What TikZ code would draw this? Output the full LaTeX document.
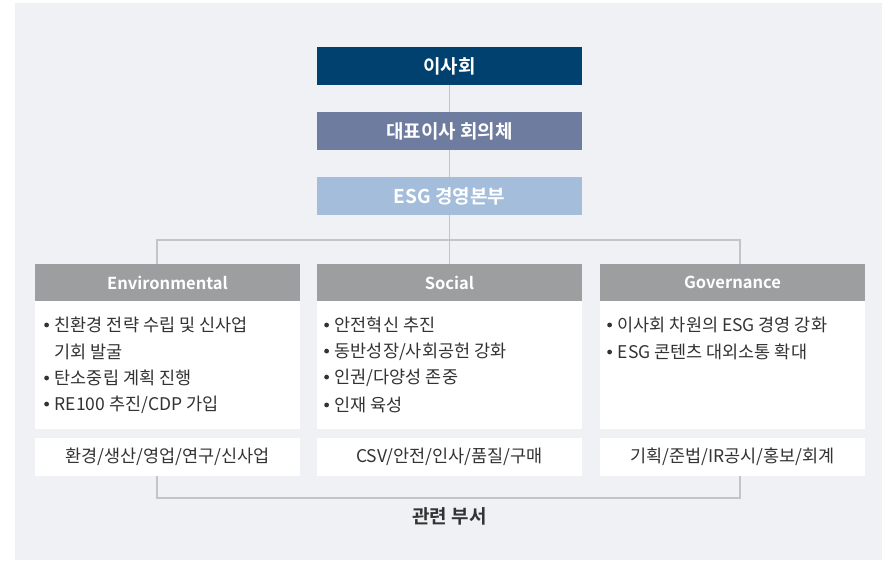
\documentclass[tikz,border=0pt]{standalone}
\usepackage{fontspec}
\setmainfont{Noto Sans CJK KR}
\newfontfamily\krb{Noto Sans CJK KR Bold}
\definecolor{bgc}{HTML}{F0F1F4}
\definecolor{navy}{HTML}{00416F}
\definecolor{slate}{HTML}{6E7C9F}
\definecolor{lblue}{HTML}{A4BDDB}
\definecolor{hdr}{HTML}{9D9E9F}
\definecolor{linec}{HTML}{C3C4C6}
\definecolor{txt}{HTML}{333333}
\newcommand{\bt}{\makebox[10.5pt][l]{\raisebox{4.2pt}{\tikz\fill[txt] (0,0) circle (2.4pt);}}}
\begin{document}
\begin{tikzpicture}[x=1pt,y=-1pt,
  topbox/.style={minimum width=265pt,minimum height=38pt,inner sep=0pt,text=white,font=\krb\fontsize{19}{21}\selectfont},
  hdrbox/.style={fill=hdr,minimum width=265pt,minimum height=37pt,inner sep=0pt,text=white,font=\krb\fontsize{16.5}{19}\selectfont},
  bodybox/.style={fill=white,minimum width=265pt,minimum height=128pt,inner sep=0pt},
  deptbox/.style={fill=white,minimum width=265pt,minimum height=38pt,inner sep=0pt,text=txt,font=\fontsize{17.5}{20}\selectfont},
  bul/.style={anchor=west,text=txt,font=\fontsize{17.5}{20}\selectfont,inner sep=0pt},
  conn/.style={draw=linec,line width=1.5pt}]
\useasboundingbox (0,0) rectangle (882,562);
\fill[bgc] (15,3) rectangle (882,560);
% connectors
\coordinate (hl) at (157,240);
\coordinate (hr) at (740,240);
\coordinate (hm) at (449.5,240);
\node[topbox,fill=navy] (board) at (449.5,66) {이사회};
\node[topbox,fill=slate] (ceo) at (449.5,131) {대표이사 회의체};
\node[topbox,fill=lblue] (esg) at (449.5,196) {ESG 경영본부};
\node[hdrbox] (env) at (167.5,282.5) {Environmental};
\node[hdrbox] (soc) at (449.5,282.5) {Social};
\node[hdrbox] (gov) at (732.5,282.5) {Governance};
\node[bodybox] (envb) at (167.5,365) {};
\node[bodybox] (socb) at (449.5,365) {};
\node[bodybox] (govb) at (732.5,365) {};
\node[deptbox] (envd) at (167.5,457) {환경/생산/영업/연구/신사업};
\node[deptbox] (socd) at (449.5,457) {CSV/안전/인사/품질/구매};
\node[deptbox] (govd) at (732.5,457) {기획/준법/IR공시/홍보/회계};
\draw[conn] (board) -- (ceo);
\draw[conn] (ceo) -- (esg);
\draw[conn] (esg) -- (hm);
\draw[conn] (env.north -| hl) -- (hl) -- (hr) -- (gov.north -| hr);
\draw[conn] (hm) -- (soc);
\coordinate (bl) at (157,498);
\coordinate (br) at (740,498);
\draw[conn] (envd.south -| bl) -- (bl) -- (br) -- (govd.south -| br);
\node[font=\krb\fontsize{19}{21}\selectfont,text=txt] (rel) at (449.5,516) {관련 부서};
% bullets
\node[bul] (e1) at (44,325) {\bt 친환경 전략 수립 및 신사업};
\node[bul] (e2) at (54.5,352) {기회 발굴};
\node[bul] (e3) at (44,378) {\bt 탄소중립 계획 진행};
\node[bul] (e4) at (44,405) {\bt RE100 추진/CDP 가입};
\node[bul] (s1) at (324,325) {\bt 안전혁신 추진};
\node[bul] (s2) at (324,352) {\bt 동반성장/사회공헌 강화};
\node[bul] (s3) at (324,378) {\bt 인권/다양성 존중};
\node[bul] (s4) at (324,405) {\bt 인재 육성};
\node[bul] (g1) at (607,325) {\bt 이사회 차원의 ESG 경영 강화};
\node[bul] (g2) at (607,352) {\bt ESG 콘텐츠 대외소통 확대};
\end{tikzpicture}
\end{document}
